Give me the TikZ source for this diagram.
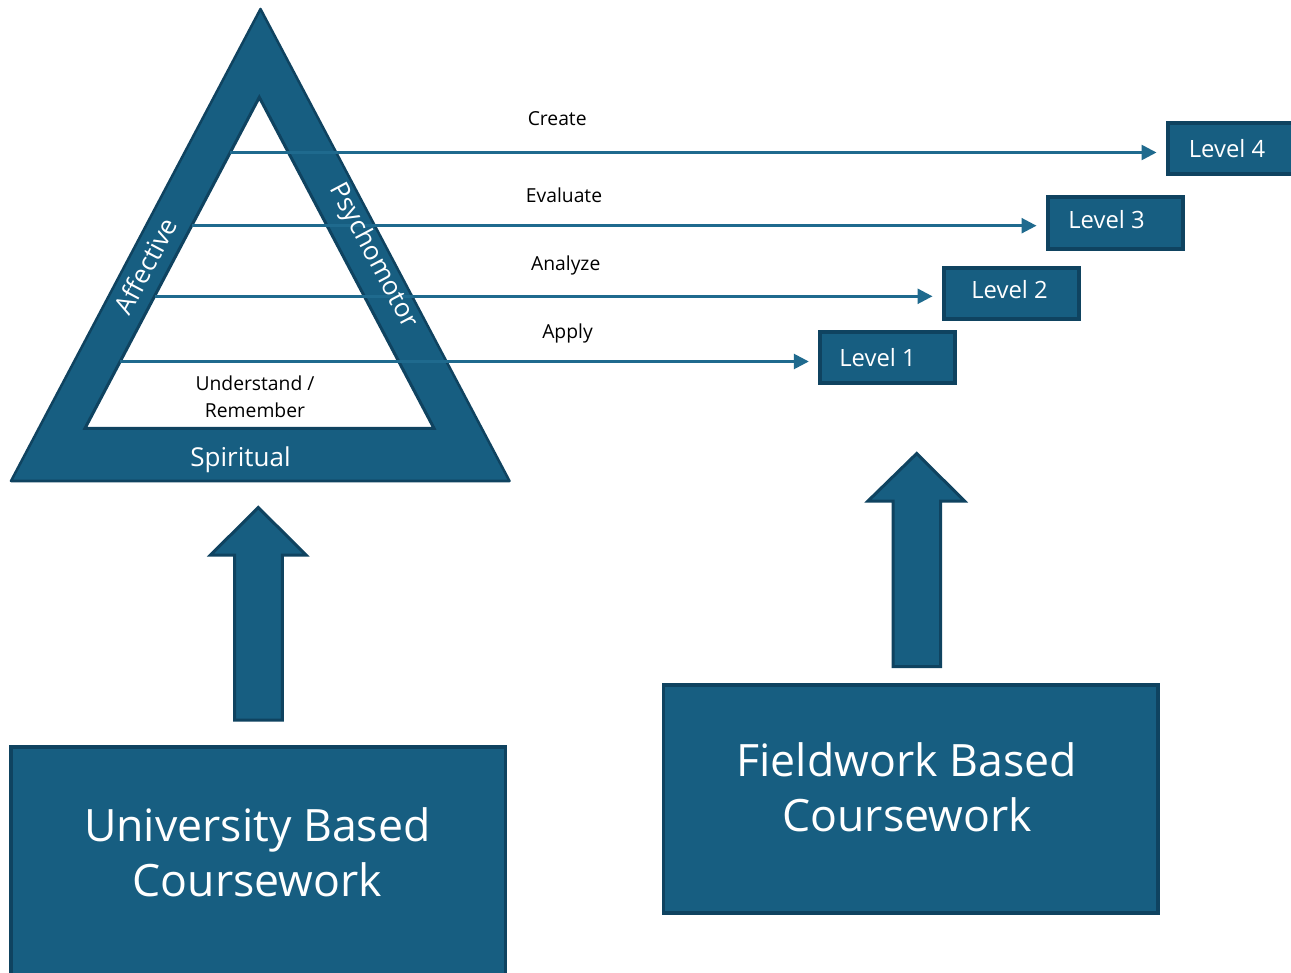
\documentclass[tikz,border=0pt]{standalone}
\usepackage{fontspec}
\setmainfont{Open Sans}
\usetikzlibrary{arrows.meta}
\definecolor{bfill}{HTML}{175E81}
\definecolor{bdark}{HTML}{0F4360}
\definecolor{bline}{HTML}{1F6A8E}
\begin{document}
\begin{tikzpicture}[x=1pt,y=-1pt,
  flow/.style={bline, line width=2.6pt, shorten >=9.5pt, -{Triangle[length=15pt,width=15pt]}},
  lvlbox/.style={draw=bdark, fill=bfill, line width=4pt, minimum width=135pt, minimum height=51.5pt, inner sep=0pt},
  lvltext/.style={white, anchor=base, inner sep=0pt, font=\fontsize{23.8}{28}\selectfont},
  steptext/.style={black, anchor=base, inner sep=0pt, font=\fontsize{19.3}{22}\selectfont},
  bandtext/.style={white, inner sep=0pt, font=\fontsize{26}{30}\selectfont},
  bigbox/.style={draw=bdark, fill=bfill, line width=3.5pt},
  bigtext/.style={white, anchor=base, inner sep=0pt, font=\fontsize{44.6}{52}\selectfont},
  blockarrow/.style={draw=bdark, fill=bfill, line width=3pt, line join=miter}
]
\useasboundingbox (0,0) rectangle (1291,973);
\fill[white] (0,0) rectangle (1291,973);

% pyramid
\draw[bdark, fill=bfill, line width=2.5pt, line join=round] (260.5,9) -- (509.5,481) -- (11,481) -- cycle;
\draw[bdark, fill=white, line width=3pt, line join=miter] (259.3,97.3) -- (434,428.3) -- (85,428.3) -- cycle;

% level boxes
\node[lvlbox] (L4) at (1235.5,148.5) {};
\node[lvlbox] (L3) at (1115.5,223) {};
\node[lvlbox] (L2) at (1011.5,293.5) {};
\node[lvlbox] (L1) at (887.8,357.3) {};
\node[lvltext] (t4) at (1227,157.7) {Level 4};
\node[lvltext] (t3) at (1106.5,228.3) {Level 3};
\node[lvltext] (t2) at (1009.5,299) {Level 2};
\node[lvltext] (t1) at (877.5,366.7) {Level 1};

% connectors
\coordinate (s4) at (230.1,152.5);
\coordinate (s3) at (191.5,225.7);
\coordinate (s2) at (154.7,296.3);
\coordinate (s1) at (120.1,361.5);
\draw[flow] (s4) -- (s4 -| L4.west);
\draw[flow] (s3) -- (s3 -| L3.west);
\draw[flow] (s2) -- (s2 -| L2.west);
\draw[flow] (s1) -- (s1 -| L1.west);

\node[steptext] (create) at (557.2,126) {Create};
\node[steptext] (evaluate) at (564,202.7) {Evaluate};
\node[steptext] (analyze) at (565.7,270.7) {Analyze};
\node[steptext] (apply) at (567.5,338.3) {Apply};
\node[steptext] (under) at (255,391) {Understand /};
\node[steptext] (remember) at (255,417.7) {Remember};

% band labels
\node[bandtext, rotate=62.1] (aff) at (145.6,266) {Affective};
\node[bandtext, rotate=-62.1] (psy) at (373,256) {Psychomotor};
\node[bandtext, anchor=base] (spi) at (240.5,466.7) {Spiritual};

% block arrows
\draw[blockarrow] (258.3,507.5) -- (306,555) -- (282.3,555) -- (282.3,720) -- (234.5,720) -- (234.5,555) -- (210.5,555) -- cycle;
\draw[blockarrow] (916.7,453.5) -- (964.5,501) -- (940.5,501) -- (940.5,666.5) -- (893,666.5) -- (893,501) -- (868,501) -- cycle;

% bottom boxes
\draw[bigbox] (10.8,746.8) rectangle (505.5,990);
\draw[bigbox] (663.5,685) rectangle (1158.2,913.2);
\node[bigtext] (u1) at (257.3,841.7) {University Based};
\node[bigtext] (u2) at (257.5,896.7) {Coursework};
\node[bigtext] (f1) at (906.7,776) {Fieldwork Based};
\node[bigtext] (f2) at (907,831.7) {Coursework};
\end{tikzpicture}
\end{document}
